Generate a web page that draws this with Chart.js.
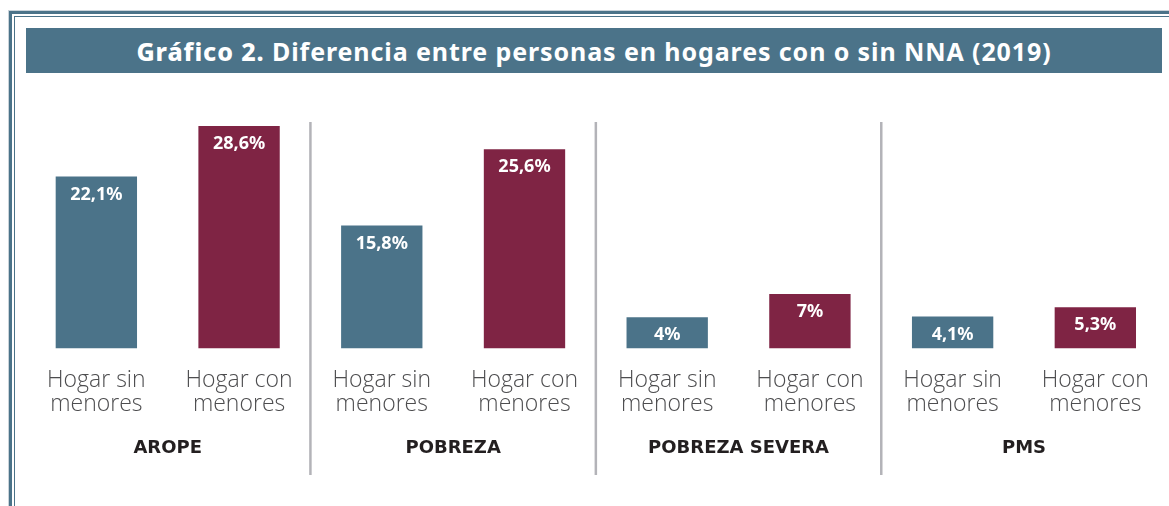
<!DOCTYPE html>
<html>
<head>
<meta charset="utf-8">
<script src="https://cdn.jsdelivr.net/npm/chart.js@4"></script>
<style>
  html, body { margin: 0; padding: 0; background: #fff; overflow: hidden; }
  body { width: 1169px; height: 506px; position: relative; }
  .frame-outer {
    position: absolute; left: 8px; top: 10px; width: 1300px; height: 600px;
    border-left: 1px solid #c9d3da; border-top: 1px solid #c9d3da;
  }
  .frame-thick {
    position: absolute; left: 0; top: 0; right: 0; bottom: 0;
    border-left: 3px solid #4b7389; border-top: 3px solid #4b7389;
  }
  .frame-thin {
    position: absolute; left: 5px; top: 5px; right: 0; bottom: 0;
    border-left: 1px solid #4b7389; border-top: 1px solid #4b7389;
  }
  .banner {
    position: absolute; left: 26px; top: 28px; width: 1136px; height: 45px;
    background: #4b7389; color: #fff;
    font-family: "Noto Sans", sans-serif; font-weight: 700; font-size: 25px;
    letter-spacing: 0.9px;
    display: flex; align-items: center; justify-content: center;
  }
  .banner b { font-weight: 800; }
  #chart { position: absolute; left: 0; top: 0; }
</style>
</head>
<body>
<div class="frame-outer"><div class="frame-thick"></div><div class="frame-thin"></div></div>
<div class="banner"><span><b>Gráfico 2.</b> Diferencia entre personas en hogares con o sin NNA (2019)</span></div>
<canvas id="chart" width="1169" height="506"></canvas>
<script>
// categories (two-line labels) and their groups
const categories = [
  ['Hogar sin', 'menores'], ['Hogar con', 'menores'],
  ['Hogar sin', 'menores'], ['Hogar con', 'menores'],
  ['Hogar sin', 'menores'], ['Hogar con', 'menores'],
  ['Hogar sin', 'menores'], ['Hogar con', 'menores']
];
const groups = ['AROPE', 'POBREZA', 'POBREZA SEVERA', 'PMS'];
const values = [22.1, 28.6, 15.8, 25.6, 4, 7, 4.1, 5.3];
const valueLabels = ['22,1%', '28,6%', '15,8%', '25,6%', '4%', '7%', '4,1%', '5,3%'];

const teal = '#4b7389';
const maroon = '#7f2444';
const barColors = values.map((v, i) => i % 2 === 0 ? teal : maroon);

// value labels inside the top of each bar
const valueLabelPlugin = {
  id: 'valueLabels',
  afterDatasetsDraw(chart) {
    const ctx = chart.ctx;
    const meta = chart.getDatasetMeta(0);
    ctx.save();
    ctx.fillStyle = '#fff';
    ctx.font = '700 18px "Noto Sans", sans-serif';
    ctx.textAlign = 'center';
    ctx.textBaseline = 'middle';
    meta.data.forEach((bar, i) => {
      ctx.fillText(valueLabels[i], bar.x, bar.y + 18);
    });
    ctx.restore();
  }
};

// separators between groups and group names
const groupPlugin = {
  id: 'groups',
  afterDraw(chart) {
    const ctx = chart.ctx;
    const x = chart.scales.x;
    ctx.save();
    ctx.strokeStyle = '#b3b3b8';
    ctx.lineWidth = 2.5;
    for (let g = 1; g < groups.length; g++) {
      const sx = (x.getPixelForValue(g * 2 - 1) + x.getPixelForValue(g * 2)) / 2;
      ctx.beginPath();
      ctx.moveTo(sx, 122);
      ctx.lineTo(sx, 475);
      ctx.stroke();
    }
    ctx.fillStyle = '#231f20';
    ctx.font = '700 18px "DejaVu Sans", sans-serif';
    ctx.textAlign = 'center';
    ctx.textBaseline = 'middle';
    groups.forEach((name, g) => {
      const cx = (x.getPixelForValue(g * 2) + x.getPixelForValue(g * 2 + 1)) / 2;
      ctx.fillText(name, cx, 448);
    });
    ctx.restore();
  }
};

new Chart(document.getElementById('chart'), {
  type: 'bar',
  data: {
    labels: categories,
    datasets: [{
      data: values,
      backgroundColor: barColors,
      barPercentage: 0.57,
      categoryPercentage: 1
    }]
  },
  options: {
    responsive: false,
    animation: false,
    layout: { padding: { left: 25, right: 2, top: 115, bottom: 0 } },
    plugins: { legend: { display: false }, tooltip: { enabled: false } },
    scales: {
      x: {
        grid: { display: false, drawTicks: false },
        border: { display: false },
        ticks: {
          color: '#4d4d4f',
          font: { family: '"Open Sans", sans-serif', size: 23, weight: 300, lineHeight: 1.05 },
          padding: 20,
          maxRotation: 0,
          autoSkip: false
        },
        afterFit(axis) { axis.height = 157.5; }
      },
      y: { display: false, min: 0, max: 30 }
    }
  },
  plugins: [valueLabelPlugin, groupPlugin]
});
</script>
</body>
</html>
